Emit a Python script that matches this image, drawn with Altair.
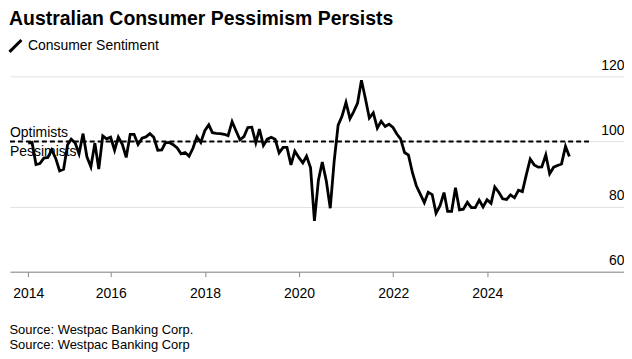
import altair as alt
import pandas as pd

TITLE = "Australian Consumer Pessimism Persists"
SERIES = "Consumer Sentiment"
SOURCE_LINES = ["Source: Westpac Banking Corp.", "Source: Westpac Banking Corp"]
FIRST_MONTH_END = "2014-03-31"

# Westpac-Melbourne Institute consumer sentiment, monthly, Mar 2014 - Sep 2025
v2014 = [99.5, 99.7, 92.9, 93.2, 94.9, 95.1, 97.4, 94.8, 91.0, 91.5]
v2015 = [99.0, 100.7, 99.5, 96.2, 102.4, 95.3, 92.2, 99.5, 91.5, 101.7, 100.8, 101.3]
v2016 = [97.3, 101.3, 99.1, 95.1, 102.2, 102.2, 99.1, 101.0, 101.4, 102.4, 101.3, 97.3]
v2017 = [97.4, 99.6, 99.7, 99.0, 98.0, 96.2, 96.6, 95.5, 97.9, 101.4, 99.7, 103.3]
v2018 = [105.1, 102.7, 102.5, 102.4, 102.2, 101.8, 106.1, 103.2, 100.5, 101.5, 104.3, 104.4]
v2019 = [99.6, 103.8, 98.8, 100.7, 101.3, 100.7, 96.5, 98.2, 98.2, 92.8, 97.0, 95.1]
v2020 = [93.4, 95.5, 91.9, 75.6, 88.1, 93.7, 87.9, 79.5, 93.8, 105.0, 107.7, 112.0]
v2021 = [107.0, 109.1, 111.8, 118.8, 113.1, 107.2, 108.8, 104.1, 106.2, 104.6, 105.3, 104.3]
v2022 = [102.2, 100.8, 96.6, 95.8, 90.4, 86.4, 83.8, 81.2, 84.4, 83.7, 78.0, 80.3]
v2023 = [84.3, 78.5, 78.5, 85.8, 79.0, 79.2, 81.3, 79.7, 79.7, 82.0, 79.9, 82.1]
v2024 = [81.0, 86.0, 84.4, 82.4, 82.2, 83.6, 82.7, 85.0, 84.6, 89.8, 94.6, 92.8]
v2025 = [92.1, 92.2, 95.9, 90.1, 92.1, 92.6, 93.1, 98.5, 95.4]

X_TICKS = ["2014-03-31", "2016-01-01", "2018-01-01", "2020-01-01", "2022-01-01", "2024-01-01"]
X_DOMAIN = ["2013-11-10", "2026-11-28"]
Y_TICKS = [60, 80, 100, 120]
Y_DOMAIN = [60, 120]
NEUTRAL = 100
NEUTRAL_END = "2026-03-01"
ZONE_LABELS = ["Optimists", "Pessimists"]

FONT = "Liberation Sans"

values = v2014 + v2015 + v2016 + v2017 + v2018 + v2019 + v2020 + v2021 + v2022 + v2023 + v2024 + v2025
dates = pd.date_range(FIRST_MONTH_END, periods=len(values), freq="ME").strftime("%Y-%m-%d")
df = pd.DataFrame({"date": dates, "value": values, "series": SERIES})


def dt(s):
    y, m, d = (int(p) for p in s.split("-"))
    return alt.DateTime(year=y, month=m, date=d, utc=True)


x_scale = alt.Scale(type="utc", domain=[dt(X_DOMAIN[0]), dt(X_DOMAIN[1])])
x_axis = alt.Axis(
    values=[dt(s) for s in X_TICKS],
    labelExpr="utcFormat(datum.value, '%Y')",
    grid=False,
    domainColor="#8a8a8a",
    domainWidth=1,
    tickColor="#8a8a8a",
    tickSize=5,
    labelBaseline="alphabetic",
    labelPadding=21,
    labelFontSize=14,
    labelFont=FONT,
    labelColor="black",
    title=SOURCE_LINES,
    titleFont=FONT,
    titleFontSize=13,
    titleFontWeight="normal",
    titleColor="black",
    titleAnchor="start",
    titleAlign="left",
    titleBaseline="alphabetic",
    titleLineHeight=15,
    titleX=-1,
    titleY=62,
)
y_scale = alt.Scale(domain=Y_DOMAIN, nice=False, zero=False)
y_axis = alt.Axis(
    orient="right",
    values=Y_TICKS,
    grid=True,
    gridColor="#e2e2e2",
    gridWidth=1,
    domain=False,
    ticks=False,
    tickSize=0,
    labelAlign="right",
    labelBaseline="alphabetic",
    labelPadding=0,
    labelOffset=-7,
    labelFontSize=14,
    labelFont=FONT,
    labelColor="black",
    title=None,
)


def xenc(field):
    return alt.X(field, type="temporal", scale=x_scale, axis=x_axis)


def yenc(field):
    return alt.Y(field, type="quantitative", scale=y_scale, axis=y_axis)


line = alt.Chart(df).mark_line(strokeWidth=2.8, strokeJoin="miter").encode(
    x=xenc("date"),
    y=yenc("value"),
    color=alt.Color(
        "series:N",
        scale=alt.Scale(range=["#000000"]),
        legend=alt.Legend(
            orient="none",
            legendX=-2,
            legendY=-38,
            title=None,
            symbolType="M-1,1L1,-1",
            symbolSize=144,
            symbolStrokeWidth=3,
            symbolStrokeColor="black",
            labelFontSize=14,
            labelFont=FONT,
            labelColor="black",
            labelOffset=5,
            padding=0,
        ),
    ),
)

rule_df = pd.DataFrame({"date": [X_DOMAIN[0]], "date_end": [NEUTRAL_END], "level": [NEUTRAL]})
rule = alt.Chart(rule_df).mark_rule(strokeDash=[5, 3], strokeWidth=2, color="black").encode(
    x=xenc("date"), x2="date_end:T", y=yenc("level")
)

lab_df = pd.DataFrame({"date": [X_DOMAIN[0]] * 2, "level": [NEUTRAL] * 2, "text": ZONE_LABELS})
opt = alt.Chart(lab_df[lab_df.text == ZONE_LABELS[0]]).mark_text(
    align="left", baseline="alphabetic", dy=-4.5, fontSize=14, font=FONT, color="black"
).encode(x=xenc("date"), y=yenc("level"), text="text:N")
pes = alt.Chart(lab_df[lab_df.text == ZONE_LABELS[1]]).mark_text(
    align="left", baseline="alphabetic", dy=14.5, fontSize=14, font=FONT, color="black"
).encode(x=xenc("date"), y=yenc("level"), text="text:N")

chart = (
    alt.layer(rule, line, opt, pes)
    .properties(
        width=616,
        height=196,
        padding={"left": 0, "top": 0, "right": 0, "bottom": 0},
        title=alt.Title(
            TITLE,
            anchor="start",
            frame="group",
            dx=-1,
            fontSize=19.5,
            font=FONT,
            fontWeight="bold",
            color="black",
            offset=9,
        ),
    )
    .configure_view(stroke=None)
)

chart.save("out.html", embed_options={"renderer": "svg", "actions": False})
